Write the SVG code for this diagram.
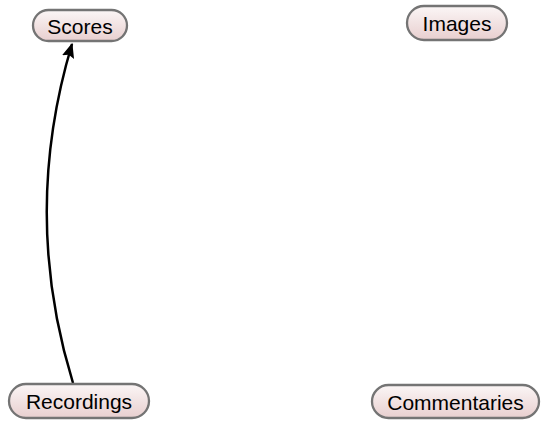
<svg xmlns="http://www.w3.org/2000/svg" width="542" height="421" viewBox="0 0 542 421">
<style>
.box{fill:url(#g);stroke:#747474;stroke-width:2.3}
.lbl{font-family:"Liberation Sans",Arial,sans-serif;font-size:21px;fill:#000;text-anchor:middle}
.edge{fill:none;stroke:#000;stroke-width:2.5}
</style>
<defs>
<linearGradient id="g" x1="0" y1="0" x2="0" y2="1">
<stop offset="0" stop-color="#fbf6f6"/>
<stop offset="1" stop-color="#e8cfcf"/>
</linearGradient>
<marker id="ah" viewBox="0 0 12 10" refX="11" refY="5" markerWidth="6" markerHeight="5" orient="auto" markerUnits="strokeWidth">
<path d="M0,0 L12,5 L0,10 L2,5 z" fill="#000"/>
</marker>
</defs>
<g id="edges">
<path class="edge" d="M73,383 Q21,214 72,44" marker-end="url(#ah)"/>
</g>
<g id="scores">
<rect class="box" x="33" y="10" width="94" height="31" rx="15.5"/>
<text class="lbl" x="80" y="34">Scores</text>
</g>
<g id="images">
<rect class="box" x="407" y="6" width="100" height="34" rx="17"/>
<text class="lbl" x="457" y="30.5">Images</text>
</g>
<g id="recordings">
<rect class="box" x="9" y="384" width="140" height="34" rx="17"/>
<text class="lbl" x="79" y="409">Recordings</text>
</g>
<g id="commentaries">
<rect class="box" x="372" y="385" width="167" height="33" rx="16.5"/>
<text class="lbl" x="455.5" y="410">Commentaries</text>
</g>
</svg>
